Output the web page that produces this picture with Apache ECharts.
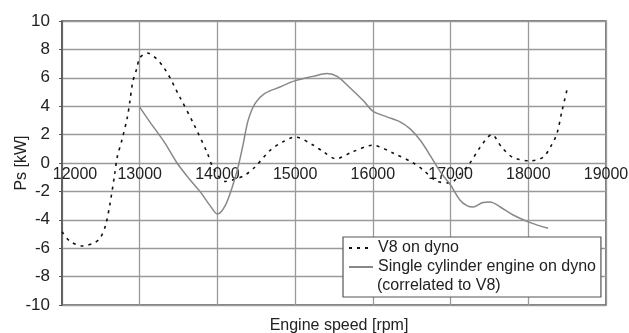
<!DOCTYPE html>
<html>
<head>
<meta charset="utf-8">
<script src="https://cdn.jsdelivr.net/npm/echarts@6/dist/echarts.min.js"></script>
<style>html,body{margin:0;padding:0;background:#fff;}#c{width:629px;height:333px;}</style>
</head>
<body>
<div id="c"></div>
<script>
// V8 on dyno
var rpmV8 = [12000,12100,12270,12420,12490,12560,12620,12680,12710,12770,12840,12875,12910,12965,13000,13095,13300,13520,13690,13870,13950,14100,14250,14355,14480,14680,14845,15000,15230,15360,15525,15745,16000,16260,16520,16650,16830,16995,17120,17250,17380,17530,17660,17800,18020,18190,18300,18370,18435,18500];
var psV8  = [-4.84,-5.5,-5.85,-5.6,-5.3,-4.4,-2.8,-0.7,0.4,1.6,3.2,4.4,5.7,6.7,7.4,7.75,6.8,4.6,2.8,0.7,-0.4,-1.3,-1.1,-0.85,-0.3,0.9,1.5,1.83,1.27,0.8,0.3,0.8,1.25,0.7,0.0,-0.5,-1.3,-1.4,-0.8,0.0,1.1,2.0,1.1,0.4,0.15,0.4,1.27,2.1,3.7,5.2];
// Single cylinder engine on dyno (correlated to V8)
var rpmSingle = [13000,13130,13325,13480,13650,13775,13905,14000,14100,14190,14265,14330,14395,14485,14610,14805,15000,15230,15410,15540,15705,15875,16000,16180,16350,16480,16610,16735,16865,17000,17120,17210,17290,17405,17510,17640,17805,18025,18255];
var psSingle  = [3.94,2.9,1.4,0.0,-1.2,-2.0,-3.0,-3.6,-3.0,-1.7,-0.3,1.3,3.0,4.2,4.9,5.35,5.8,6.1,6.3,6.1,5.3,4.4,3.65,3.25,2.9,2.4,1.6,0.56,-0.6,-1.55,-2.6,-3.0,-3.1,-2.8,-2.75,-3.1,-3.66,-4.2,-4.6];
var seriesNames = ['V8 on dyno', 'Single cylinder engine on dyno'];
var legendExtra = '(correlated to V8)';
var xName = 'Engine speed [rpm]';
var yName = 'Ps [kW]';

function pairs(xs, ys) { return xs.map(function (x, i) { return [x, ys[i]]; }); }

var FONT = '"Liberation Sans", Arial, sans-serif';
var chart = echarts.init(document.getElementById('c'), null, {renderer: 'canvas'});
chart.setOption({
  animation: false,
  backgroundColor: '#fff',
  textStyle: {fontFamily: FONT},
  grid: {left: 62, right: 23, top: 21, bottom: 28, show: true, borderColor: '#555', borderWidth: 1.5, backgroundColor: 'transparent', containLabel: false, outerBoundsMode: 'none'},
  title: {
    text: xName, left: 334, textAlign: 'center', top: 313,
    textStyle: {fontFamily: FONT, fontSize: 16, fontWeight: 'normal', color: '#222'}
  },
  legend: {
    show: true,
    orient: 'vertical', left: 343, top: 237,
    padding: [3, 5, 22, 5],
    itemGap: 3, itemWidth: 24, itemHeight: 14,
    itemStyle: {opacity: 0},
    backgroundColor: '#fff', borderColor: '#555', borderWidth: 1.2,
    textStyle: {fontFamily: FONT, fontSize: 16, color: '#222'},
    data: seriesNames
  },
  graphic: [{
    type: 'text', left: 377, top: 278, z: 100,
    style: {text: legendExtra, font: '16px ' + FONT, fill: '#222'}
  }],
  xAxis: {
    type: 'value', min: 12000, max: 19000, interval: 1000,
    position: 'bottom', offset: -142,
    axisLine: {show: false, onZero: false},
    axisTick: {show: false},
    splitLine: {show: true, lineStyle: {color: '#9a9a9a', width: 1.3}},
    axisLabel: {
      margin: 4, fontSize: 16, color: '#222', fontFamily: FONT, showMaxLabel: true, showMinLabel: true,
      formatter: function (v) { return v === 12000 ? '{first|' + v + '}' : String(v); },
      rich: {first: {padding: [0, 0, 0, 26], fontSize: 16, color: '#222', fontFamily: FONT}}
    }
  },
  yAxis: {
    type: 'value', min: -10, max: 10, interval: 2,
    name: yName, nameLocation: 'middle', nameGap: 32, nameMoveOverlap: false,
    nameTextStyle: {fontSize: 16, color: '#222', fontFamily: FONT},
    axisLine: {show: true, lineStyle: {color: '#555', width: 1.5}},
    axisTick: {show: true, length: 3, lineStyle: {color: '#555'}},
    splitLine: {show: true, lineStyle: {color: '#9a9a9a', width: 1.3}},
    axisLabel: {margin: 12, fontSize: 17, color: '#222', fontFamily: FONT}
  },
  series: [{
    name: seriesNames[0], type: 'line', smooth: 0.3, symbol: 'none',
    data: pairs(rpmV8, psV8),
    lineStyle: {color: '#111', width: 1.6, type: [3, 5]},
    itemStyle: {color: '#111'}
  }, {
    name: seriesNames[1], type: 'line', smooth: 0.3, symbol: 'none',
    data: pairs(rpmSingle, psSingle),
    lineStyle: {color: '#888', width: 1.5, type: 'solid'},
    itemStyle: {color: '#888'}
  }]
});
</script>
</body>
</html>
